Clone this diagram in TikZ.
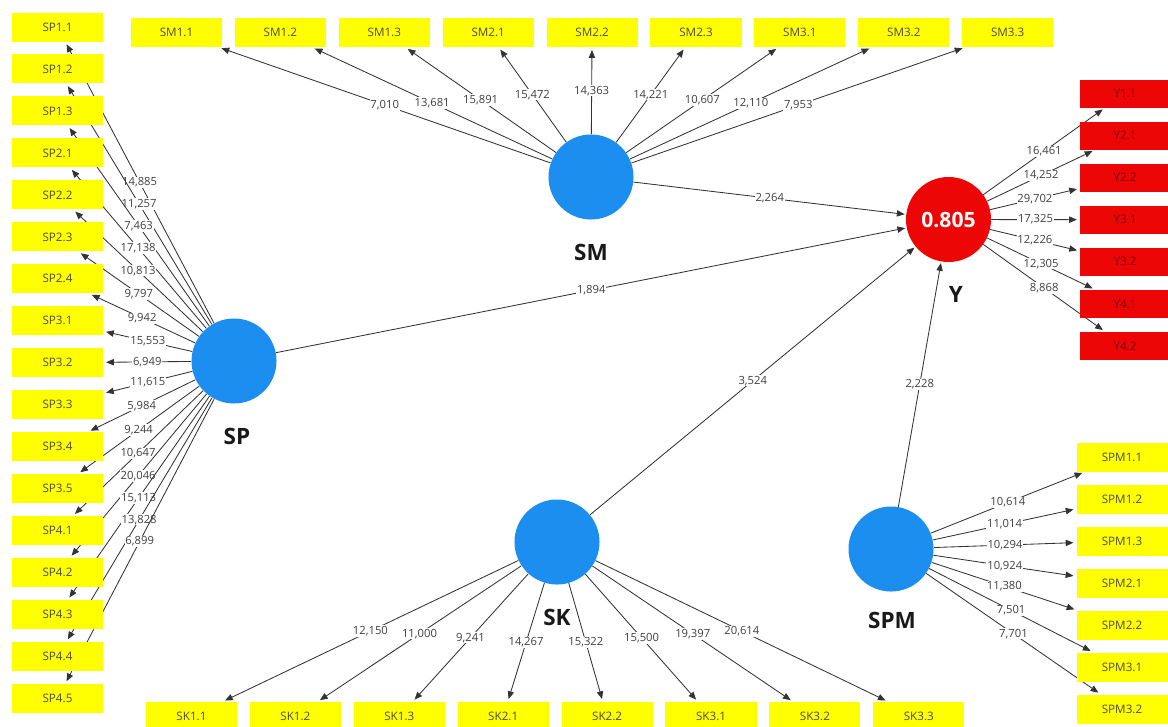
\documentclass[tikz,border=0pt]{standalone}
\usepackage{fontspec}
\setmainfont{Open Sans}
\usetikzlibrary{arrows.meta,backgrounds}
\definecolor{plsyellow}{RGB}{255,255,0}
\definecolor{plsblue}{RGB}{28,142,240}
\definecolor{plsred}{RGB}{236,6,6}

\begin{document}
\begin{tikzpicture}[x=0.025cm, y=-0.025cm,
  ind/.style={rectangle, draw=none, fill=plsyellow, minimum width=2.275cm, minimum height=0.725cm, inner sep=0pt, font=\fontsize{8.3}{10}\selectfont, text=black!70},
  indy/.style={ind, fill=plsred, text=red!50!black, minimum width=2.25cm, minimum height=0.7cm},
  lv/.style={circle, draw=none, fill=plsblue, minimum size=2.125cm, inner sep=0pt},
  lvname/.style={font=\fontsize{16}{16}\selectfont\bfseries, text=black!90},
  load/.style={-{Triangle[length=5.5pt,width=4.5pt]}, line width=0.6pt, draw=black!80, shorten >=2pt},
  val/.style={fill=white, inner sep=0.6pt, font=\fontsize{8}{9}\selectfont, text=black!75}]
%%%%%%%%%%%%%%%%%%%%%%%%%%%%%%%%%%%%%%%%%%% HELP LINES
%\draw[help lines] (0,0) grid (1168,726);
\useasboundingbox (0,0) rectangle (1168,726);

%%%%%%%%%%%%%%%%%%%%%%%%%%%%%%%%%%%%%%%%%%% latent variables
\node[lv](sm) at (591,177){};
\node[lv](sp) at (234,361){};
\node[lv](sk) at (557,542){};
\node[lv](spm) at (891,549){};
\node[lv, fill=plsred, text=white, font=\fontsize{15}{15}\selectfont\bfseries](y) at (948.5,219.5){0.805};

\node[lvname](smname) at (591,252){SM};
\node[lvname](spname) at (237,436){SP};
\node[lvname](skname) at (557,617){SK};
\node[lvname](spmname) at (892,620){SPM};
\node[lvname](yname) at (956,294){Y};

%%%%% inner model
\begin{pgfonlayer}{background}
\draw[load, shorten >=1pt] (sm) -- node[val]{2,264} (y);
\draw[load, shorten >=1pt] (sp) -- node[val]{1,894} (y);
\draw[load, shorten >=1pt] (sk) -- node[val]{3,524} (y);
\draw[load, shorten >=1pt] (spm) -- node[val]{2,228} (y);
\end{pgfonlayer}

%%%%% indicators SP
\foreach \lbl/\v [count=\i] in {SP1.1/{14,885},SP1.2/{11,257},SP1.3/{7,463},SP2.1/{17,138},SP2.2/{10,813},SP2.3/{9,797},SP2.4/{9,942},SP3.1/{15,553},SP3.2/{6,949},SP3.3/{11,615},SP3.4/{5,984},SP3.5/{9,244},SP4.1/{10,647},SP4.2/{20,046},SP4.3/{15,113},SP4.4/{13,828},SP4.5/{6,899}}{
  \node[ind](sp\i) at (57.5,{27+41.97*(\i-1)}){\lbl};
  \begin{pgfonlayer}{background}
  \draw[load] (sp) -- node[val]{\v} (sp\i);
  \end{pgfonlayer}
}

%%%%% indicators SM
\foreach \lbl/\v [count=\i] in {SM1.1/{7,010},SM1.2/{13,681},SM1.3/{15,891},SM2.1/{15,472},SM2.2/{14,363},SM2.3/{14,221},SM3.1/{10,607},SM3.2/{12,110},SM3.3/{7,953}}{
  \node[ind](sm\i) at ({176.5+103.9*(\i-1)},32.5){\lbl};
  \begin{pgfonlayer}{background}
  \draw[load] (sm) -- node[val]{\v} (sm\i);
  \end{pgfonlayer}
}

%%%%% indicators SK
\foreach \lbl/\v [count=\i] in {SK1.1/{12,150},SK1.2/{11,000},SK1.3/{9,241},SK2.1/{14,267},SK2.2/{15,322},SK3.1/{15,500},SK3.2/{19,397},SK3.3/{20,614}}{
  \node[ind](sk\i) at ({191.5+103.9*(\i-1)},716.5){\lbl};
  \begin{pgfonlayer}{background}
  \draw[load] (sk) -- node[val]{\v} (sk\i);
  \end{pgfonlayer}
}

%%%%% indicators SPM
\foreach \lbl/\v [count=\i] in {SPM1.1/{10,614},SPM1.2/{11,014},SPM1.3/{10,294},SPM2.1/{10,924},SPM2.2/{11,380},SPM3.1/{7,501},SPM3.2/{7,701}}{
  \node[ind](spm\i) at (1122,{457+42*(\i-1)}){\lbl};
  \begin{pgfonlayer}{background}
  \draw[load] (spm) -- node[val]{\v} (spm\i);
  \end{pgfonlayer}
}

%%%%% indicators Y
\foreach \lbl/\v [count=\i] in {Y1.1/{16,461},Y2.1/{14,252},Y2.2/{29,702},Y3.1/{17,325},Y3.2/{12,226},Y4.1/{12,305},Y4.2/{8,868}}{
  \node[indy](y\i) at (1125,{93.5+42.08*(\i-1)}){\lbl};
  \begin{pgfonlayer}{background}
  \draw[load] (y) -- node[val]{\v} (y\i);
  \end{pgfonlayer}
}
\end{tikzpicture}
\end{document}
